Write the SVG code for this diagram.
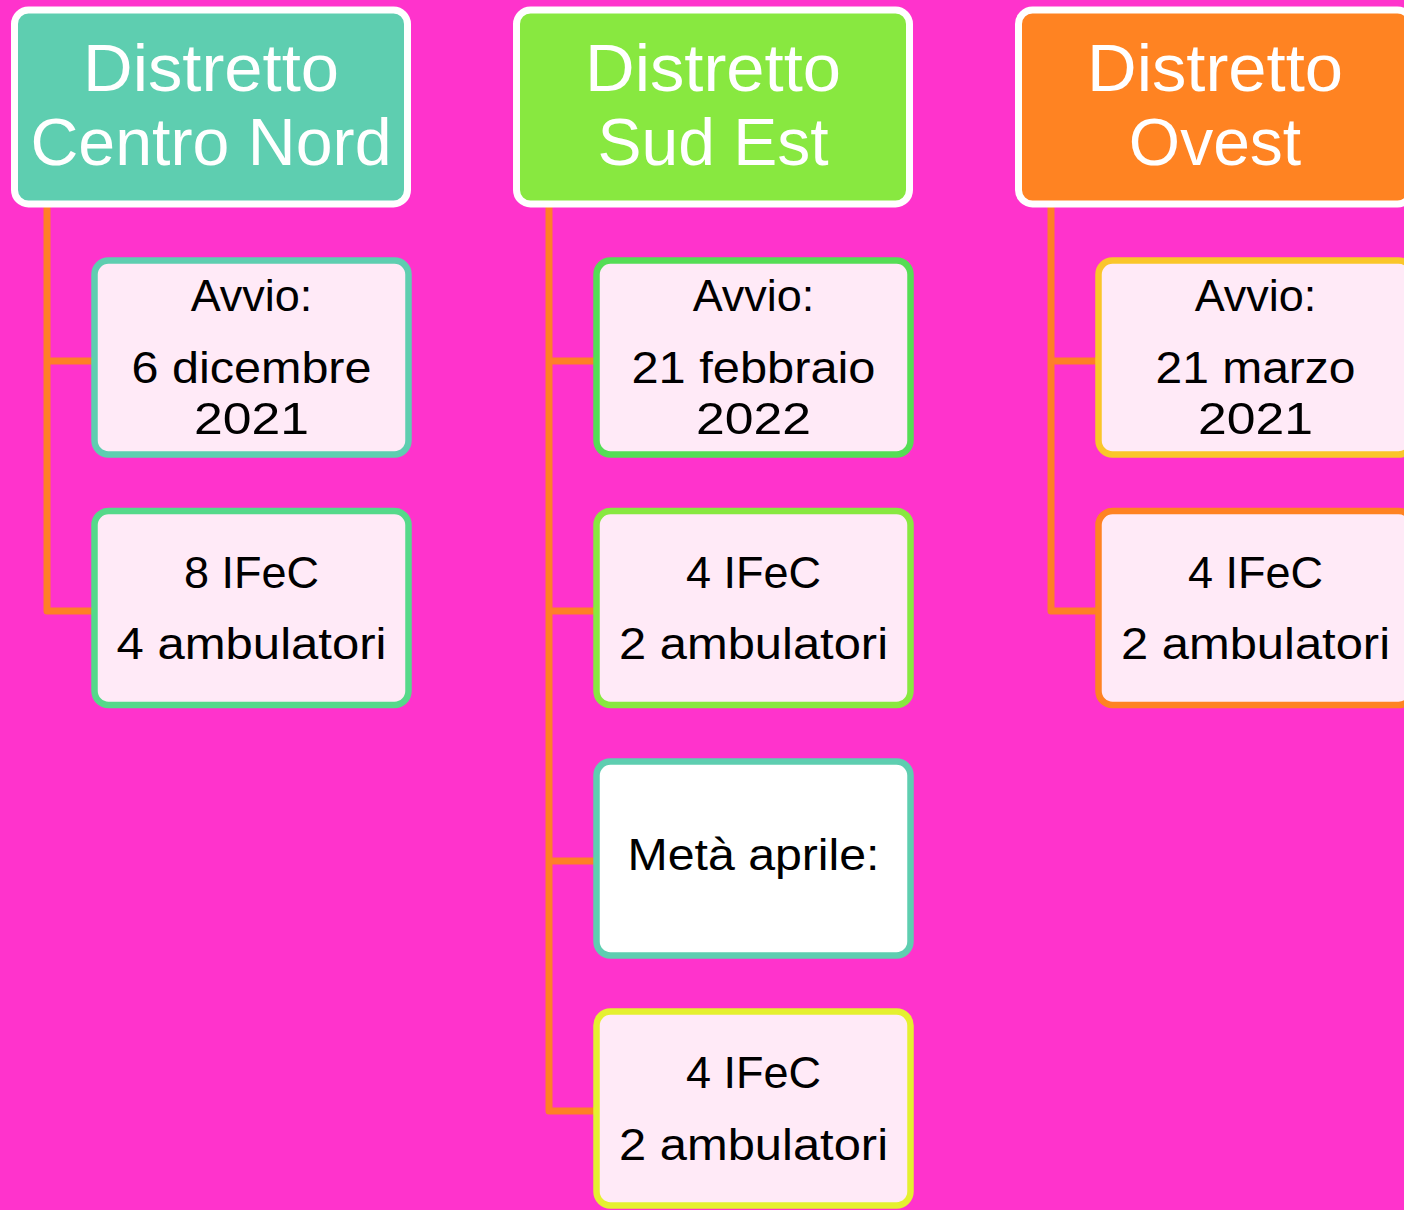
<svg xmlns="http://www.w3.org/2000/svg" width="1404" height="1210" viewBox="0 0 1404 1210">
<style>
.hdr{stroke:#FFFFFF;stroke-width:7}
.ht{font-family:"Liberation Sans",Arial,sans-serif;font-size:66px;fill:#FFFFFF;text-anchor:middle}
.box{stroke-width:6.5}
.bt{font-family:"Liberation Sans",Arial,sans-serif;font-size:45px;fill:#000000;text-anchor:middle}
.con{fill:none;stroke:#FF7F27;stroke-width:7;stroke-linejoin:round}
</style>
<rect width="1404" height="1210" fill="#FF33CC"/>
<g id="connectors">
<path class="con" d="M47 207 V611 H94 M47 361 H94"/>
<path class="con" d="M549 207 V1111 H596 M549 361 H596 M549 611 H596 M549 861 H596"/>
<path class="con" d="M1051 207 V611 H1098 M1051 361 H1098"/>
</g>
<g id="h-centro-nord">
<rect class="hdr" x="14.5" y="10" width="393" height="194" rx="14" fill="#5ECEB0"/>
<text class="ht" x="211" y="91" textLength="256" lengthAdjust="spacingAndGlyphs">Distretto</text>
<text class="ht" x="211" y="165" textLength="361" lengthAdjust="spacingAndGlyphs">Centro Nord</text>
</g>
<g id="h-sud-est">
<rect class="hdr" x="516.5" y="10" width="393" height="194" rx="14" fill="#88E840"/>
<text class="ht" x="713" y="91" textLength="256" lengthAdjust="spacingAndGlyphs">Distretto</text>
<text class="ht" x="713" y="165">Sud Est</text>
</g>
<g id="h-ovest">
<rect class="hdr" x="1018.5" y="10" width="393" height="194" rx="14" fill="#FF8322"/>
<text class="ht" x="1215" y="91" textLength="256" lengthAdjust="spacingAndGlyphs">Distretto</text>
<text class="ht" x="1215" y="165">Ovest</text>
</g>
<g id="cn-avvio">
<rect class="box" x="94.5" y="260.5" width="314" height="194" rx="14" fill="#FFEAF7" stroke="#5ECEB0"/>
<text class="bt" x="251.5" y="311">Avvio:</text>
<text class="bt" x="251.5" y="383" textLength="240" lengthAdjust="spacingAndGlyphs">6 dicembre</text>
<text class="bt" x="251.5" y="434" textLength="115" lengthAdjust="spacingAndGlyphs">2021</text>
</g>
<g id="cn-ifec">
<rect class="box" x="94.5" y="511" width="314" height="194" rx="14" fill="#FFEAF7" stroke="#55D98A"/>
<text class="bt" x="251.5" y="588">8 IFeC</text>
<text class="bt" x="251.5" y="659" textLength="270" lengthAdjust="spacingAndGlyphs">4 ambulatori</text>
</g>
<g id="se-avvio">
<rect class="box" x="596.5" y="260.5" width="314" height="194" rx="14" fill="#FFEAF7" stroke="#55DD55"/>
<text class="bt" x="753.5" y="311">Avvio:</text>
<text class="bt" x="753.5" y="383" textLength="244" lengthAdjust="spacingAndGlyphs">21 febbraio</text>
<text class="bt" x="753.5" y="434" textLength="115" lengthAdjust="spacingAndGlyphs">2022</text>
</g>
<g id="se-ifec">
<rect class="box" x="596.5" y="511" width="314" height="194" rx="14" fill="#FFEAF7" stroke="#88E840"/>
<text class="bt" x="753.5" y="588">4 IFeC</text>
<text class="bt" x="753.5" y="659" textLength="269" lengthAdjust="spacingAndGlyphs">2 ambulatori</text>
</g>
<g id="se-meta">
<rect class="box" x="596.5" y="761.5" width="314" height="194" rx="14" fill="#FFFFFF" stroke="#5ECEB0"/>
<text class="bt" x="753.5" y="870" textLength="252" lengthAdjust="spacingAndGlyphs">Metà aprile:</text>
</g>
<g id="se-ifec2">
<rect class="box" x="596.5" y="1011.5" width="314" height="194" rx="14" fill="#FFEAF7" stroke="#E5F030"/>
<text class="bt" x="753.5" y="1088">4 IFeC</text>
<text class="bt" x="753.5" y="1160" textLength="269" lengthAdjust="spacingAndGlyphs">2 ambulatori</text>
</g>
<g id="ov-avvio">
<rect class="box" x="1098.5" y="260.5" width="314" height="194" rx="14" fill="#FFEAF7" stroke="#FAC62A"/>
<text class="bt" x="1255.5" y="311">Avvio:</text>
<text class="bt" x="1255.5" y="383" textLength="200" lengthAdjust="spacingAndGlyphs">21 marzo</text>
<text class="bt" x="1255.5" y="434" textLength="115" lengthAdjust="spacingAndGlyphs">2021</text>
</g>
<g id="ov-ifec">
<rect class="box" x="1098.5" y="511" width="314" height="194" rx="14" fill="#FFEAF7" stroke="#FF8322"/>
<text class="bt" x="1255.5" y="588">4 IFeC</text>
<text class="bt" x="1255.5" y="659" textLength="269" lengthAdjust="spacingAndGlyphs">2 ambulatori</text>
</g>
</svg>
